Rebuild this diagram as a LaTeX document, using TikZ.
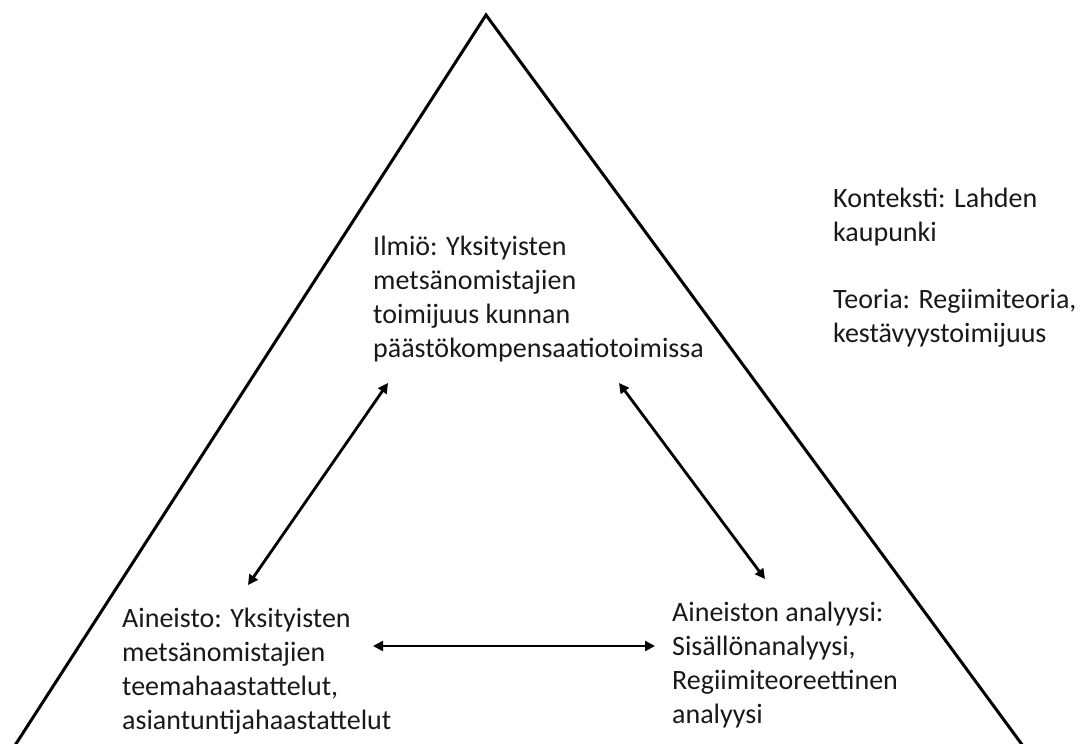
\documentclass[tikz,border=0pt]{standalone}
\usepackage{fontspec}
\setmainfont{Carlito}
\usetikzlibrary{arrows.meta}
\tikzset{
  label/.style={anchor=north west, inner sep=0pt, align=left, font={\fontsize{28}{34}\selectfont}, text=black!90},
  tri/.style={line width=3pt, line join=miter, black},
  link/.style={line width=2.8pt, black, {Triangle[length=10pt,width=10pt]}-{Triangle[length=10pt,width=10pt]}}
}
\begin{document}
\begin{tikzpicture}[x=1pt,y=-1pt]
\useasboundingbox (0,0) rectangle (1084,744);
\clip (0,0) rectangle (1084,744);
\fill[white] (0,0) rectangle (1084,744);
% triangle
\coordinate (apex) at (486,15);
\coordinate (bl) at (12,750);
\coordinate (br) at (1026,750);
\draw[tri] (bl) -- (apex) -- (br);
% texts
\node[label] (ilmio) at (373,231) {\strut Ilmiö: Yksityisten\\metsänomistajien\\toimijuus kunnan\\päästökompensaatiotoimissa};
\node[label] (kont) at (833,183) {\strut Konteksti: Lahden\\kaupunki};
\node[label] (teor) at (833,284) {\strut Teoria: Regiimiteoria,\\kestävyystoimijuus};
\node[label] (aineisto) at (122,603) {\strut Aineisto: Yksityisten\\metsänomistajien\\teemahaastattelut,\\asiantuntijahaastattelut};
\node[label] (analyysi) at (672,597) {\strut Aineiston analyysi:\\Sisällönanalyysi,\\Regiimiteoreettinen\\analyysi};
% arrow ends
\coordinate (a1) at (248,585);
\coordinate (a2) at (388,383);
\coordinate (b1) at (619,383);
\coordinate (b2) at (765,579);
\coordinate (c1) at (373,646);
\coordinate (c2) at (655,646);
\draw[link] (a1) -- (a2);
\draw[link] (b1) -- (b2);
\draw[link] (c1) -- (c2);
\end{tikzpicture}
\end{document}
